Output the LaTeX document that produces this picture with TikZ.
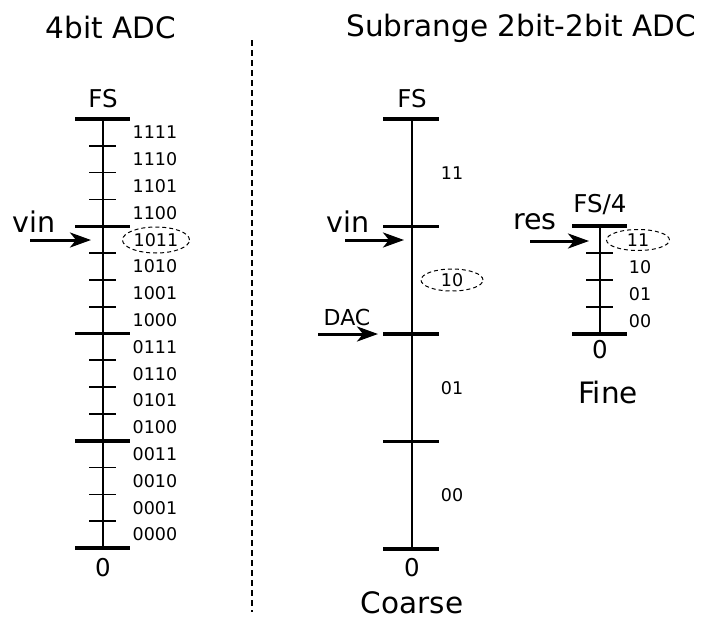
\documentclass[tikz,border=0pt]{standalone}
\usepackage{fontspec}
\setmainfont{DejaVu Sans}
\usetikzlibrary{arrows.meta,shapes.geometric}
\begin{document}
\begin{tikzpicture}[x=1pt,y=-1pt,
  major/.style={line width=3.5pt},
  minor/.style={line width=1.7pt},
  axisline/.style={line width=2pt},
  code/.style={font=\fontsize{17.5}{20}\selectfont, inner sep=0pt},
  lbl/.style={font=\fontsize{24.5}{28}\selectfont, inner sep=0pt},
  big/.style={font=\fontsize{29.5}{34}\selectfont, inner sep=0pt},
  inlbl/.style={font=\fontsize{28.5}{32}\selectfont, inner sep=0pt},
  sel/.style={draw, ellipse, line width=1pt, dash pattern=on 4pt off 3pt, inner sep=0pt},
  arr/.style={line width=3pt, -{Stealth[length=21pt,width=15pt,inset=6pt]}}]
\useasboundingbox (0,0) rectangle (707,621);
% titles
\node[big] (t1) at (111,28) {4bit ADC};
\node[big] (t2) at (521,28) {Subrange 2bit-2bit ADC};
\coordinate (dTop) at (252,40);
\coordinate (dBot) at (252,612);
\draw[line width=1.2pt, dash pattern=on 6pt off 4pt] (dTop) -- (dBot);
% ---------- 4bit scale ----------
\coordinate (aTop) at (103,119);
\coordinate (aBot) at (103,548);
\draw[axisline] (aTop) -- (aBot);
\foreach \k in {0,4,8,12,16}{
  \draw[major] (75,119+26.8125*\k) -- (130,119+26.8125*\k);
}
\foreach \k in {1,2,3,5,6,7,9,10,11,13,14,15}{
  \draw[minor] (89,119+26.8125*\k) -- (116,119+26.8125*\k);
}
\foreach \c/\i in {1111/0,1110/1,1101/2,1100/3,1010/5,1001/6,1000/7,0111/8,0110/9,0101/10,0100/11,0011/12,0010/13,0001/14,0000/15}{
  \node[code] (L\c) at (155,119+26.8125*\i+13.4) {\c};
}
\node[code, sel, minimum width=67pt, minimum height=26pt] (L1011) at (156,240) {1011};
\node[lbl] (fsA) at (103,99) {FS};
\node[lbl] (zA) at (103,568) {0};
\node[inlbl] (vinA) at (34,222) {vin};
\coordinate (vinAs) at (30,240);
\coordinate (vinAe) at (91,240);
\draw[arr] (vinAs) -- (vinAe);
% ---------- coarse scale ----------
\coordinate (bTop) at (412,119);
\coordinate (bBot) at (412,549);
\draw[axisline] (bTop) -- (bBot);
\foreach \yy in {119,226.5,334,441.5,549}{
  \draw[major] (383,\yy) -- (439,\yy);
}
\node[code] (C11) at (452,173) {11};
\node[code, sel, minimum width=62pt, minimum height=22pt] (C10) at (452,280) {10};
\node[code] (C01) at (452,388) {01};
\node[code] (C00) at (452,495) {00};
\node[lbl] (fsB) at (412,99) {FS};
\node[lbl] (zB) at (412,568) {0};
\node[big] (coarse) at (412,603) {Coarse};
\node[inlbl] (vinB) at (348,222) {vin};
\coordinate (vinBs) at (345,240);
\coordinate (vinBe) at (404,240);
\draw[arr] (vinBs) -- (vinBe);
\node[font=\fontsize{22}{26}\selectfont, inner sep=0pt] (dac) at (347,317) {DAC};
\coordinate (dacS) at (318,334);
\coordinate (dacE) at (378,334);
\draw[arr] (dacS) -- (dacE);
% ---------- fine scale ----------
\coordinate (cTop) at (600,226);
\coordinate (cBot) at (600,334);
\draw[axisline] (cTop) -- (cBot);
\foreach \yy in {226,334}{
  \draw[major] (572,\yy) -- (627,\yy);
}
\foreach \yy in {253,280,307}{
  \draw[minor] (586,\yy) -- (613,\yy);
}
\node[code, sel, minimum width=63pt, minimum height=21pt] (F11) at (638,240) {11};
\node[code] (F10) at (640,267) {10};
\node[code] (F01) at (640,294) {01};
\node[code] (F00) at (640,321) {00};
\node[lbl] (fsC) at (600,205) {FS/4};
\node[lbl] (zC) at (600,350) {0};
\node[big] (fine) at (608,392) {Fine};
\node[inlbl] (res) at (535,222) {res};
\coordinate (resS) at (530,241);
\coordinate (resE) at (589,241);
\draw[arr] (resS) -- (resE);
\end{tikzpicture}
\end{document}
